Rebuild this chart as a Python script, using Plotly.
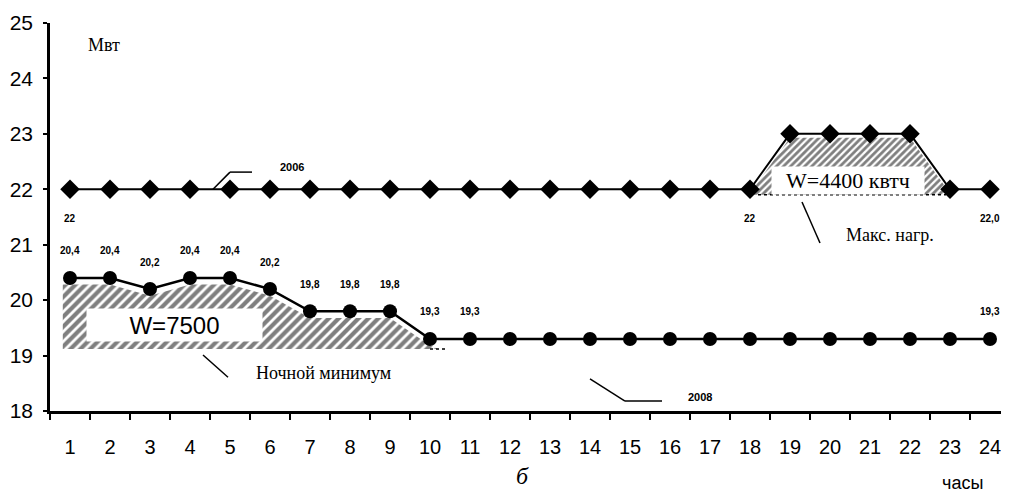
import plotly.graph_objects as go

hours = list(range(1, 25))
load_2006 = [22.0, 22.0, 22.0, 22.0, 22.0, 22.0, 22.0, 22.0, 22.0, 22.0, 22.0, 22.0,
             22.0, 22.0, 22.0, 22.0, 22.0, 22.0, 23.0, 23.0, 23.0, 23.0, 22.0, 22.0]
load_2008 = [20.4, 20.4, 20.2, 20.4, 20.4, 20.2, 19.8, 19.8, 19.8, 19.3, 19.3, 19.3,
             19.3, 19.3, 19.3, 19.3, 19.3, 19.3, 19.3, 19.3, 19.3, 19.3, 19.3, 19.3]
labels_2006 = ["22", "", "", "", "", "", "", "", "", "", "", "",
               "", "", "", "", "", "22", "", "", "", "", "", "22,0"]
labels_2008 = ["20,4", "20,4", "20,2", "20,4", "20,4", "20,2", "19,8", "19,8", "19,8", "19,3", "19,3", "",
               "", "", "", "", "", "", "", "", "", "", "", "19,3"]
y_ticks = [18, 19, 20, 21, 22, 23, 24, 25]

SANS = "Liberation Sans, Arial, sans-serif"
SERIF = "Liberation Serif, Times New Roman, serif"

fig = go.Figure()

# Night minimum hatched area (hours 1-10)
night_x = [0.82] + hours[:10] + [10.2, 0.82]
night_y = [load_2008[0] - 0.12] + [v - 0.12 for v in load_2008[:10]] + [19.12, 19.12]
fig.add_trace(go.Scatter(x=night_x, y=night_y, mode="lines", line=dict(width=0),
                         fill="toself", fillcolor="white",
                         fillpattern=dict(shape="/", fgcolor="black", bgcolor="white", size=7, solidity=0.6),
                         hoverinfo="skip", showlegend=False))

# Peak hatched area (hours 18-23)
peak_base = 21.9
peak_top = [max(v - 0.07, peak_base + 0.03) for v in load_2006[17:23]]
peak_x = hours[17:23] + [hours[22], hours[17]]
peak_y = peak_top + [peak_base, peak_base]
fig.add_trace(go.Scatter(x=peak_x, y=peak_y, mode="lines", line=dict(width=0),
                         fill="toself", fillcolor="white",
                         fillpattern=dict(shape="/", fgcolor="black", bgcolor="white", size=5, solidity=0.55),
                         hoverinfo="skip", showlegend=False))

fig.add_trace(go.Scatter(x=hours, y=load_2006, mode="lines+markers", name="2006",
                         line=dict(color="black", width=2),
                         marker=dict(symbol="diamond", size=15, color="black"),
                         showlegend=False))
fig.add_trace(go.Scatter(x=hours, y=load_2008, mode="lines+markers", name="2008",
                         line=dict(color="black", width=2.5),
                         marker=dict(symbol="circle", size=14, color="black"),
                         showlegend=False))

annotations = []
for h, v, t in zip(hours, load_2006, labels_2006):
    if t:
        annotations.append(dict(x=h, y=v, text="<b>" + t + "</b>", showarrow=False, yshift=-29,
                                font=dict(family=SANS, size=10, color="black")))
for h, v, t in zip(hours, load_2008, labels_2008):
    if t:
        annotations.append(dict(x=h, y=v, text="<b>" + t + "</b>", showarrow=False, yshift=27,
                                font=dict(family=SANS, size=10, color="black")))

annotations += [
    dict(x=1.85, y=24.6, text="Мвт", showarrow=False, font=dict(family=SERIF, size=18, color="black")),
    dict(x=6.55, y=22.40, text="<b>2006</b>", showarrow=False, font=dict(family=SANS, size=11, color="black")),
    dict(x=16.75, y=18.25, text="<b>2008</b>", showarrow=False, font=dict(family=SANS, size=11, color="black")),
    dict(x=3.6, y=19.56, text="W=7500", showarrow=False, width=173, height=30, bgcolor="white",
         font=dict(family=SANS, size=24, color="black")),
    dict(x=20.45, y=22.165, text="W=4400 квтч", showarrow=False, width=150, height=25, bgcolor="white",
         font=dict(family=SERIF, size=22, color="black")),
    dict(x=7.33, y=18.69, text="Ночной минимум", showarrow=False, font=dict(family=SERIF, size=18, color="black")),
    dict(x=21.5, y=21.18, text="Макс. нагр.", showarrow=False, font=dict(family=SERIF, size=18, color="black")),
    dict(x=23.3, y=-0.186, yref="paper", yanchor="middle", text="часы", showarrow=False,
         font=dict(family=SANS, size=18, color="black")),
    dict(x=12.3, y=-0.168, yref="paper", yanchor="middle", text="<i>б</i>", showarrow=False,
         font=dict(family=SERIF, size=24, color="black")),
]

shapes = [
    # 2006 leader
    dict(type="line", x0=4.575, y0=22.0, x1=5.0, y1=22.31, line=dict(color="black", width=1.5)),
    dict(type="line", x0=5.0, y0=22.31, x1=5.55, y1=22.31, line=dict(color="black", width=1.5)),
    # 2008 leader
    dict(type="line", x0=14.0, y0=18.58, x1=14.875, y1=18.18, line=dict(color="black", width=1.5)),
    dict(type="line", x0=14.875, y0=18.18, x1=15.8, y1=18.18, line=dict(color="black", width=1.5)),
    # night minimum leader
    dict(type="line", x0=4.325, y0=19.01, x1=4.95, y1=18.61, line=dict(color="black", width=1.5)),
    # peak leader
    dict(type="line", x0=19.3, y0=21.77, x1=19.75, y1=21.03, line=dict(color="black", width=1.5)),
    # dotted base of peak area
    dict(type="line", x0=18.2, y0=peak_base, x1=22.9, y1=peak_base, line=dict(color="black", width=1.5, dash="dot")),
    # dotted edge near hour 10
    dict(type="line", x0=10.0, y0=19.12, x1=10.4, y1=19.12, line=dict(color="black", width=1.5, dash="dot")),
]

# page body has an 8px margin: compensate so the plot sits where the reference does
fig.update_layout(
    width=1001, height=484,
    margin=dict(l=42, r=0, t=15, b=81, autoexpand=False),
    paper_bgcolor="white", plot_bgcolor="white",
    annotations=annotations, shapes=shapes,
    showlegend=False,
)
fig.update_xaxes(range=[0.5, 24.475], showgrid=False, zeroline=False, automargin=False,
                 showline=True, linecolor="black", linewidth=2.5,
                 tickmode="array", tickvals=hours, ticktext=[str(h) for h in hours],
                 ticks="", ticklabelstandoff=16,
                 tickfont=dict(family=SANS, size=20, color="black"),
                 minor=dict(ticks="outside", tickmode="linear", tick0=0.5, dtick=1,
                            ticklen=6, tickwidth=2, tickcolor="black"))
fig.update_yaxes(range=[18, 25], showgrid=False, zeroline=False, automargin=False,
                 showline=True, linecolor="black", linewidth=2.5,
                 tickmode="array", tickvals=y_ticks, ticktext=[str(v) for v in y_ticks],
                 ticks="outside", ticklen=4, tickwidth=2, tickcolor="black",
                 ticklabelstandoff=6,
                 tickfont=dict(family=SANS, size=21, color="black"))

fig.write_html("out.html")
